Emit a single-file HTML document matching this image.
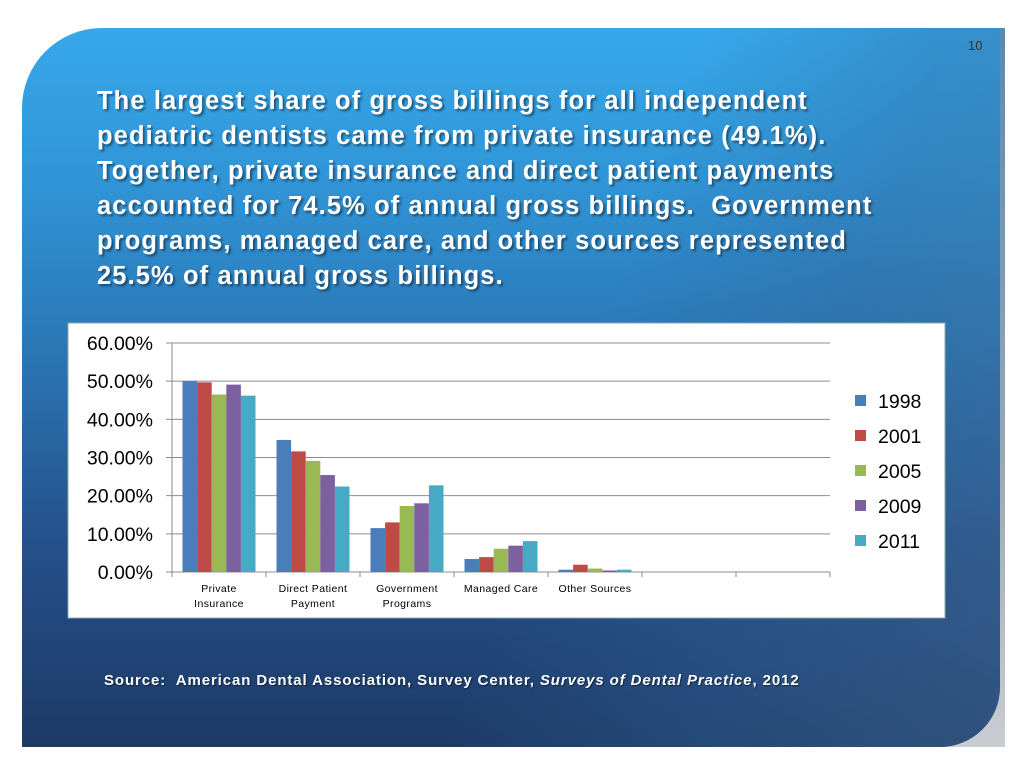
<!DOCTYPE html>
<html><head><meta charset="utf-8"><style>
html,body{margin:0;padding:0}
body{width:1024px;height:768px;background:#fff;position:relative;overflow:hidden;font-family:"Liberation Sans",sans-serif}
#edge{position:absolute;left:900px;top:28px;width:105px;height:719px;background:linear-gradient(180deg,#5b8ab0,#9aa8b6 60%,#c9cdd2)}
#slide{position:absolute;left:22px;top:28px;width:978px;height:719px;border-radius:80px 0 60px 0;overflow:hidden;
background:linear-gradient(180deg,#36a8ea 0%,#3094d6 22%,#2a72b0 48%,#24508a 72%,#1d3a66 100%)}
#shade{position:absolute;left:0;top:0;width:978px;height:719px;background:linear-gradient(110deg,rgba(60,110,160,0) 55%,rgba(50,100,150,0.35) 75%,rgba(70,110,150,0.45) 100%)}
#title{position:absolute;left:97px;top:84px;color:#fff;font-weight:bold;font-size:25.5px;letter-spacing:1.1px;line-height:35px;text-shadow:2px 2px 2px rgba(0,0,0,0.45);white-space:pre}
#num{position:absolute;left:968px;top:38px;color:#333;font-size:13px}
#src{position:absolute;left:104px;top:672px;color:#fff;font-weight:bold;font-size:15px;letter-spacing:0.9px;text-shadow:1px 1px 1px rgba(0,0,0,0.5);white-space:nowrap}
#chart{position:absolute;left:0;top:0;display:block}
</style></head><body>
<div id="edge"></div>
<div id="slide"><div id="shade"></div></div>
<div id="num">10</div>
<div id="title">The largest share of gross billings for all independent
pediatric dentists came from private insurance (49.1%).
Together, private insurance and direct patient payments
accounted for 74.5% of annual gross billings.  Government
programs, managed care, and other sources represented
25.5% of annual gross billings.</div>
<svg id="chart" width="1024" height="768"></svg>
<div id="src">Source:&nbsp; American Dental Association, Survey Center, <i>Surveys of Dental Practice</i>, 2012</div>
<script>
const categories=[["Private","Insurance"],["Direct Patient","Payment"],["Government","Programs"],["Managed Care"],["Other Sources"],[],[]];
const years=["1998","2001","2005","2009","2011"];
const s1998=[50.0,34.6,11.5,3.4,0.6];
const s2001=[49.7,31.6,13.0,3.9,1.9];
const s2005=[46.5,29.1,17.3,6.1,0.9];
const s2009=[49.1,25.4,18.0,6.9,0.4];
const s2011=[46.2,22.4,22.7,8.1,0.6];
const ticks=[0,10,20,30,40,50,60];
const colors=["#4a7ebb","#be4b48","#98b954","#7d60a0","#46aac5"];
const series=[s1998,s2001,s2005,s2009,s2011];
const svg=document.getElementById('chart');const NS="http://www.w3.org/2000/svg";
function mk(t,a,p){const e=document.createElementNS(NS,t);for(const k in a)e.setAttribute(k,a[k]);(p||svg).appendChild(e);return e;}
const X0=172,X1=830,Y0=572,Y1=343;
const y=v=>Y0-(v/60)*(Y0-Y1);
const slot=(X1-X0)/categories.length;
const box=mk('rect',{x:68,y:323,width:877,height:295,fill:'#fff',stroke:'#8aa',"stroke-width":1});


ticks.forEach(t=>{
 const l=mk('line',{x1:X0-6,x2:X1,y1:y(t),y2:y(t),stroke:'#8c8c8c',"stroke-width":1});
 
 
 const tx=mk('text',{x:153,y:y(t)+7,"text-anchor":"end","font-size":19.5,fill:'#000'});
 tx.textContent=t.toFixed(2)+'%';
 
 
});
const ax=mk('line',{x1:X0,x2:X0,y1:Y1,y2:Y0+5,stroke:'#888'});


for(let i=0;i<=categories.length;i++){
 const tk=mk('line',{x1:X0+i*slot,x2:X0+i*slot,y1:Y0,y2:Y0+5,stroke:'#888'});
 
 
}
const bw=14.6;
categories.forEach((c,i)=>{
 const cx=X0+i*slot+slot/2;
 c.forEach((ln,j)=>{const t=mk('text',{x:cx,y:592+j*15,"text-anchor":"middle","font-size":10.5,"letter-spacing":0.4,fill:'#000'});t.textContent=ln;
 
 });
 series.forEach((s,k)=>{
  if(s[i]===undefined)return;
  const r=mk('rect',{x:cx-2.5*bw+k*bw,y:y(s[i]),width:bw,height:Y0-y(s[i]),fill:colors[k]});
  
  
 });
});
years.forEach((yr,k)=>{
 const r=mk('rect',{x:855,y:395+k*35,width:11,height:11,fill:colors[k]});
 
 
 const t=mk('text',{x:878,y:408+k*35,"font-size":19.5,fill:'#000'});t.textContent=yr;
 
 
});
</script>
</body></html>
